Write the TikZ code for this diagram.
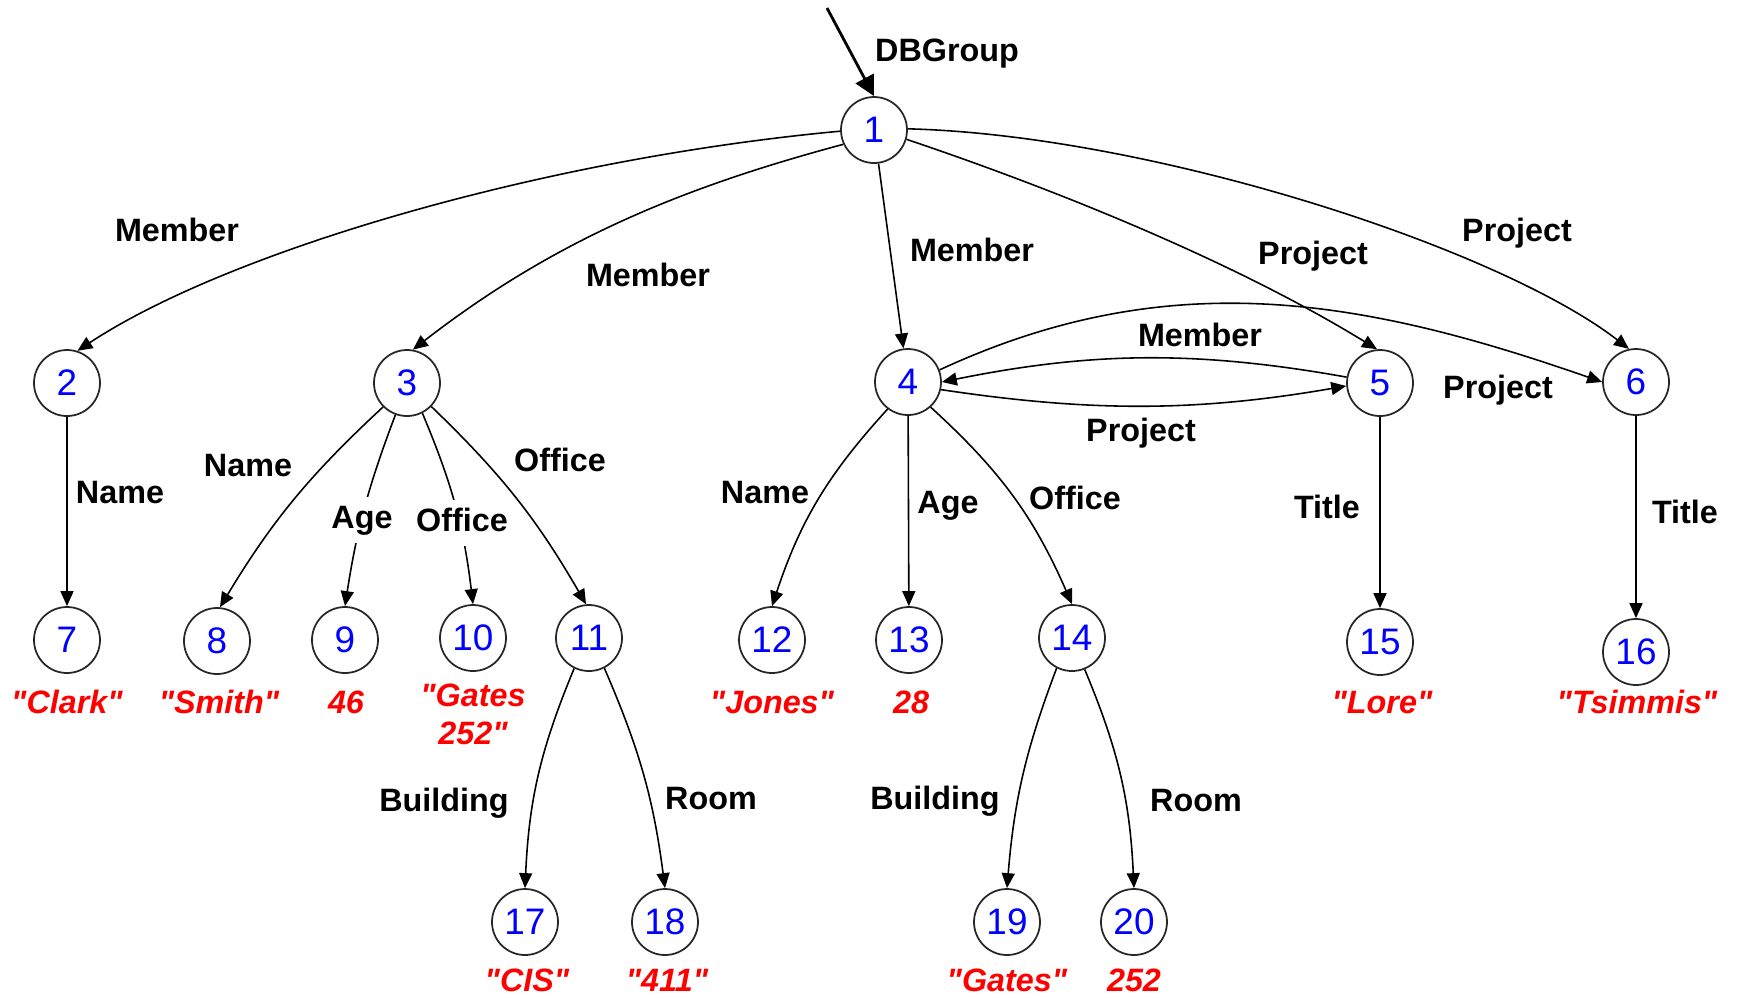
\documentclass[tikz,border=0pt]{standalone}
\usepackage{fontspec}
\setmainfont{Liberation Sans}[Ligatures=TeXOff]
\usetikzlibrary{arrows.meta}
\definecolor{oidblue}{HTML}{0000FF}
\definecolor{atomred}{HTML}{FF0000}

\begin{document}
\begin{tikzpicture}[x=0.1mm,y=0.1mm,
      ob/.style={circle,draw=black!85,line width=0.5pt,minimum size=6.6mm,inner sep=0pt,text=oidblue,font=\fontsize{10.5}{12}\selectfont},
      lab/.style={font=\fontsize{9.2}{11}\selectfont\bfseries,inner sep=0.5pt,text height=6.6pt,text depth=0pt},
      cut/.style={lab,fill=white,inner ysep=2.3pt,text depth=2pt},
      atom/.style={font=\fontsize{9.2}{10.8}\selectfont\bfseries\itshape,text=atomred,inner sep=0pt},
      val/.style={atom,text height=6.6pt,text depth=0pt},
      ar/.style={-{Triangle[length=1.5mm,width=1.3mm]},line width=0.45pt},
      entry/.style={-{Triangle[length=2mm,width=2mm]},line width=0.8pt}]
    \useasboundingbox (0,0) rectangle (1738,-997);
    \node[ob] (n1) at (874,-130) {1};
    \node[ob] (n2) at (67,-383) {2};   \node[ob] (n3) at (407,-383) {3};
    \node[ob] (n4) at (908,-382) {4};  \node[ob] (n5) at (1380,-383) {5};
    \node[ob] (n6) at (1636,-382) {6};
    \node[ob] (n7) at (67,-640) {7};   \node[ob] (n8) at (217,-641) {8};
    \node[ob] (n9) at (345,-640) {9};  \node[ob] (n10) at (473,-638) {10};
    \node[ob] (n11) at (589,-638) {11};\node[ob] (n12) at (772,-640) {12};
    \node[ob] (n13) at (909,-640) {13};\node[ob] (n14) at (1072,-638) {14};
    \node[ob] (n15) at (1380,-642) {15};\node[ob] (n16) at (1636,-652) {16};
    \node[ob] (n17) at (525,-922) {17};\node[ob] (n18) at (665,-922) {18};
    \node[ob] (n19) at (1007,-922) {19};\node[ob] (n20) at (1134,-922) {20};
    \coordinate (root) at (827,-8);
    \draw[entry] (root) -- (n1.north);
    \draw[ar] (n1.182) .. controls (540,-159) and (227,-252) .. (n2.72);
    \draw[ar] (n1.205) .. controls (680,-188) and (553,-241) .. (n3.80);
    \draw[ar] (n1) -- (n4);
    \draw[ar] (n1.-16) .. controls (1057,-190) and (1235,-262) .. (n5.95);
    \draw[ar] (n1.2) .. controls (1150,-135) and (1497,-247) .. (n6.102);
    \draw[ar] (n4.21) .. controls (1170,-263) and (1364,-299) .. (n6.180);
    \draw[ar] (n5.170) .. controls (1195,-350) and (1090,-352) .. (n4.0);
    \draw[ar] (n4.-13) .. controls (1090,-412) and (1196,-412) .. (n5.185);
    \draw[ar] (n2) -- (n7);
    \draw[ar] (n3.225) to[bend right=8] (n8.85);
    \draw[ar] (n3.250) to[bend right=6] (n9.north);
    \draw[ar] (n3.297) to[bend left=8] (n10.north);
    \draw[ar] (n3.316) to[bend left=8] (n11.95);
    \draw[ar] (n4.233) to[bend right=12] (n12.north);
    \draw[ar] (n4) -- (n13);
    \draw[ar] (n4.312) to[bend left=12] (n14.north);
    \draw[ar] (n5) -- (n15);
    \draw[ar] (n6) -- (n16);
    \draw[ar] (n11.244) to[bend right=10] (n17.north);
    \draw[ar] (n11.297) to[bend left=8] (n18.north);
    \draw[ar] (n14.243) to[bend right=8] (n19.north);
    \draw[ar] (n14.292) to[bend left=10] (n20.north);
    \node[lab] (lg) at (947,-50) {DBGroup};
    \node[lab] (lm2) at (177,-230) {Member};
    \node[lab] (lm3) at (648,-275) {Member};
    \node[lab] (lm4) at (972,-250) {Member};
    \node[lab] (lp5) at (1313,-253) {Project};
    \node[lab] (lp6) at (1517,-230) {Project};
    \node[lab] (lp46) at (1498,-387) {Project};
    \node[lab] (lm54) at (1200,-335) {Member};
    \node[lab] (lp45) at (1141,-430) {Project};
    \node[lab] (ln7) at (120,-492) {Name};
    \node[lab] (ln8) at (248,-465) {Name};
    \node[cut] (la9) at (362,-520) {Age};
    \node[cut] (lo10) at (462,-523) {Office};
    \node[lab] (lo11) at (560,-460) {Office};
    \node[lab] (ln12) at (765,-492) {Name};
    \node[lab] (la13) at (948,-502) {Age};
    \node[lab] (lo14) at (1075,-498) {Office};
    \node[lab] (lt15) at (1327,-507) {Title};
    \node[lab] (lt16) at (1685,-512) {Title};
    \node[lab] (lb17) at (444,-800) {Building};
    \node[lab] (lr18) at (711,-798) {Room};
    \node[lab] (lb19) at (935,-798) {Building};
    \node[lab] (lr20) at (1196,-800) {Room};
    \node[val] (v7) at (67,-702) {"Clark"};
    \node[val] (v8) at (219,-702) {"Smith"};
    \node[val] (v9) at (346,-702) {46};
    \node[atom,align=center,anchor=north] (v10) at (473,-683) {"Gates\\252"};
    \node[val] (v12) at (772,-702) {"Jones"};
    \node[val] (v13) at (911,-702) {28};
    \node[val] (v15) at (1382,-702) {"Lore"};
    \node[val] (v16) at (1637,-702) {"Tsimmis"};
    \node[val] (v17) at (527,-980) {"CIS"};
    \node[val] (v18) at (667,-980) {"411"};
    \node[val] (v19) at (1007,-980) {"Gates"};
    \node[val] (v20) at (1134,-980) {252};
\end{tikzpicture}
\end{document}
